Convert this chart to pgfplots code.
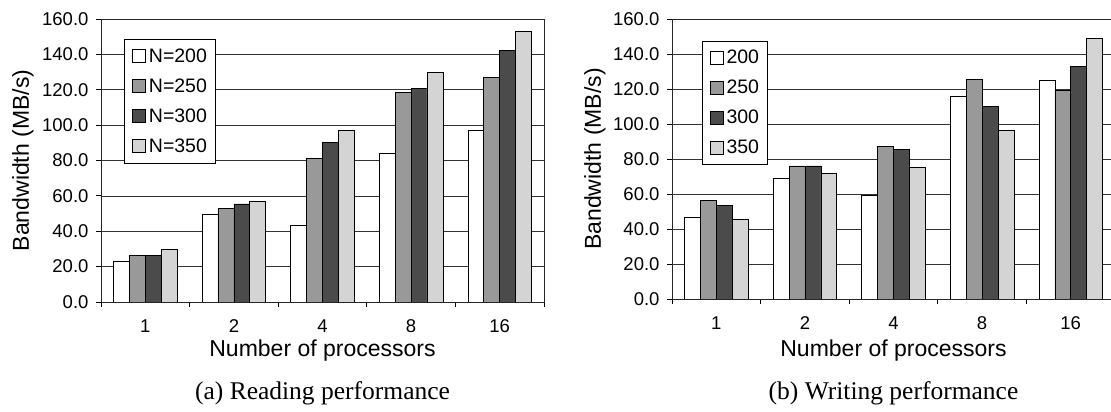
\documentclass[border=0pt]{standalone}
\usepackage{fontspec}
\setmainfont{Liberation Sans}
\newfontfamily\seriffont{Liberation Serif}
\usepackage{pgfplots}
\pgfplotsset{compat=1.18}
\definecolor{cA}{HTML}{FFFFFF}
\definecolor{cB}{HTML}{999999}
\definecolor{cC}{HTML}{4B4B4B}
\definecolor{cD}{HTML}{D4D4D4}
\definecolor{gridc}{HTML}{333333}
\pgfplotsset{
 mybars/.style={
  scale only axis, width=443pt,
  xmin=0.5, xmax=5.5, ymin=0, ymax=160,
  ybar=0pt, bar width=15.9pt,
  axis line style={line width=0.8pt, black!85},
  xtick={0.5,1.5,2.5,3.5,4.5,5.5}, xticklabels={},
  extra x ticks={1,2,3,4,5}, extra x tick labels={1,2,4,8,16},
  extra x tick style={major tick length=0pt, grid=none},
  ytick={0,20,...,160},
  ymajorgrids, grid style={line width=0.6pt, gridc},
  tick align=outside, major tick length=5pt, tick pos=left,
  tick style={line width=0.8pt, black},
  /pgf/number format/assume math mode=true,
  yticklabel style={/pgf/number format/fixed, /pgf/number format/fixed zerofill, /pgf/number format/precision=1, xshift=-4pt},
  ticklabel style={font=\fontsize{18.5}{20}\selectfont},
  xticklabel style={yshift=-14pt},
  label style={font=\fontsize{23}{26}\selectfont},
  legend cell align=left,
  legend image code/.code={\draw[#1, line width=0.6pt, draw=black] (0pt,-6.5pt) rectangle (13pt,6.5pt);},
  legend style={draw=black, line width=0.6pt, fill=white, inner xsep=8pt, inner ysep=9pt, row sep=15pt, font=\fontsize{19.5}{22}\selectfont, nodes={inner sep=0pt}, /tikz/every odd column/.append style={column sep=3pt}},
  every axis plot/.append style={draw=black, line width=0.6pt},
 }
}
\begin{document}
\begin{tikzpicture}
\begin{axis}[mybars, at={(101pt,110pt)}, anchor=south west, height=283pt,
  xlabel={Number of processors}, ylabel={Bandwidth (MB/s)},
  xlabel style={at={(axis description cs:0.5,0)}, anchor=base, yshift=-55pt},
  ylabel style={at={(axis description cs:-0.2009,0.5)}, anchor=north, inner sep=0pt},
  legend style={at={(0.052,0.929)}, anchor=north west}]
\addplot[fill=cA] coordinates {(1,22.8) (2,49.3) (3,43.1) (4,84) (5,97)};
\addplot[fill=cB] coordinates {(1,26.2) (2,52.9) (3,81.1) (4,118.4) (5,126.9)};
\addplot[fill=cC] coordinates {(1,26.5) (2,55.5) (3,90.2) (4,120.7) (5,142.1)};
\addplot[fill=cD] coordinates {(1,29.6) (2,57) (3,96.9) (4,129.7) (5,153)};
\legend{N=200,N=250,N=300,N=350}
\end{axis}
\begin{axis}[mybars, at={(672pt,113pt)}, anchor=south west, height=280pt,
  xlabel={Number of processors}, ylabel={Bandwidth (MB/s)},
  xlabel style={at={(axis description cs:0.5,0)}, anchor=base, yshift=-58pt},
  ylabel style={at={(axis description cs:-0.1986,0.5)}, anchor=north, inner sep=0pt},
  legend style={at={(0.0668,0.9225)}, anchor=north west}]
\addplot[fill=cA] coordinates {(1,46.7) (2,69) (3,59.2) (4,115.6) (5,124.8)};
\addplot[fill=cB] coordinates {(1,56.4) (2,76) (3,87) (4,125.3) (5,119.4)};
\addplot[fill=cC] coordinates {(1,53.7) (2,76) (3,85.5) (4,109.9) (5,133)};
\addplot[fill=cD] coordinates {(1,45.3) (2,71.8) (3,75.2) (4,96.2) (5,149)};
\legend{200,250,300,350}
\end{axis}
\node[anchor=base, font=\seriffont\fontsize{25.5}{30}\selectfont, inner sep=0pt] at (322.5pt,12pt) {(a) Reading performance};
\node[anchor=base, font=\seriffont\fontsize{25.5}{30}\selectfont, inner sep=0pt] at (893.5pt,12pt) {(b) Writing performance};
\pgfresetboundingbox
\useasboundingbox (0pt,0pt) rectangle (1111pt,412pt);
\end{tikzpicture}
\end{document}
